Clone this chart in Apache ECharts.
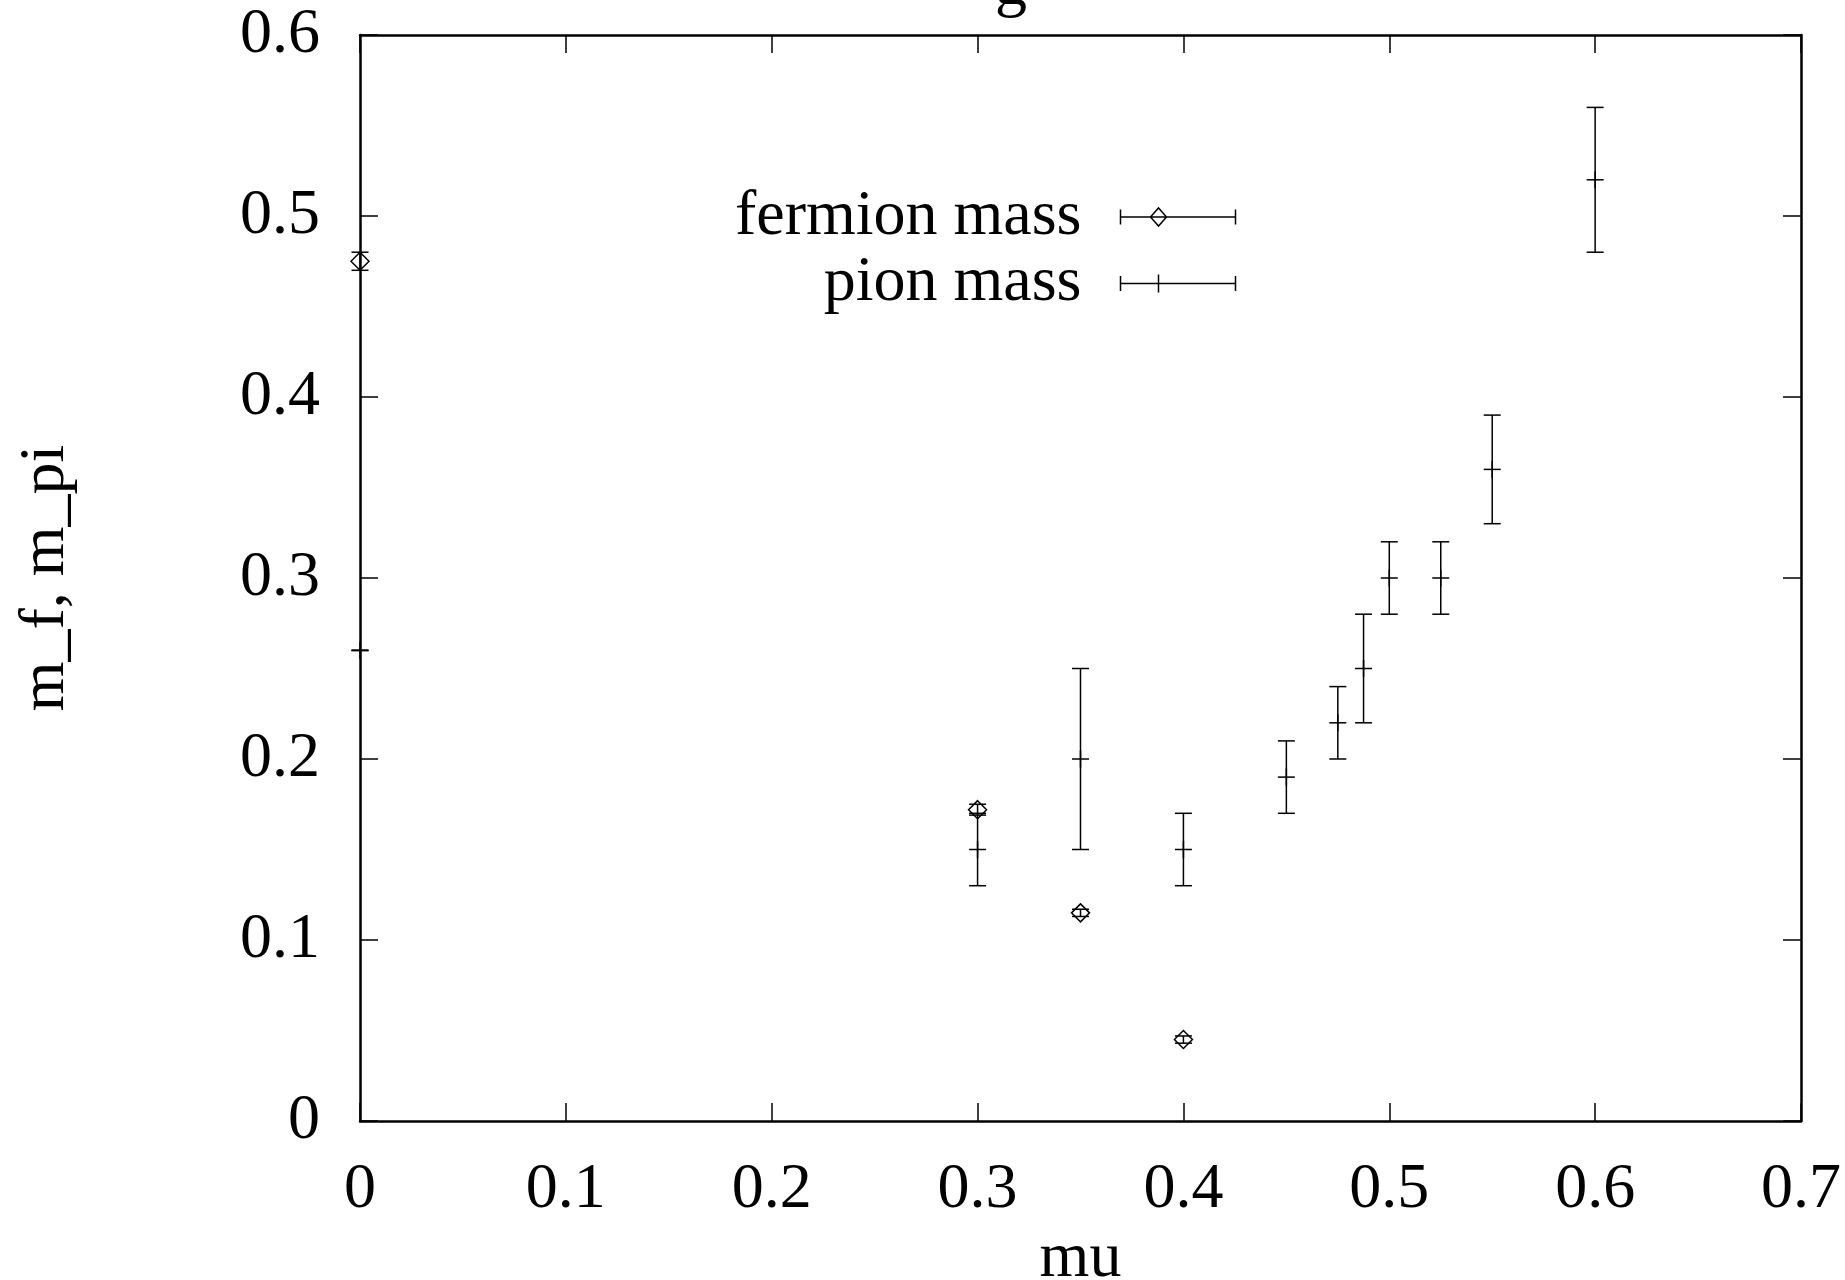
<!DOCTYPE html>
<html>
<head>
<meta charset="utf-8">
<script src="https://cdn.jsdelivr.net/npm/echarts@6/dist/echarts.min.js"></script>
<style>
html,body{margin:0;padding:0;background:#fff;}
#chart{width:1845px;height:1280px;}
</style>
</head>
<body>
<div id="chart"></div>
<script>
// ---- data ----
const fermionMu   = [0, 0.3, 0.35, 0.4];
const fermionMass = [0.475, 0.172, 0.115, 0.045];
const fermionErr  = [0.005, 0.003, 0.002, 0.002];

const pionMu   = [0, 0.3, 0.35, 0.4, 0.45, 0.475, 0.4875, 0.5, 0.525, 0.55, 0.6];
const pionMass = [0.26, 0.15, 0.20, 0.15, 0.19, 0.22, 0.25, 0.30, 0.30, 0.36, 0.52];
const pionErr  = [0, 0.02, 0.05, 0.02, 0.02, 0.02, 0.03, 0.02, 0.02, 0.03, 0.04];

const xTicks = [0, 0.1, 0.2, 0.3, 0.4, 0.5, 0.6, 0.7];
const yTicks = [0, 0.1, 0.2, 0.3, 0.4, 0.5, 0.6];

const FONT = 'Liberation Serif';
const FS = 64;

function toRows(xs, ys, es) { return xs.map((x, i) => [x, ys[i], es[i]]); }

function makeRender(kind) {
  return function (params, api) {
    const x = api.value(0), y = api.value(1), e = api.value(2);
    const c = api.coord([x, y]);
    const hi = api.coord([x, y + e]);
    const lo = api.coord([x, y - e]);
    const w = 8.5;
    const st = { stroke: '#000', lineWidth: 1.5, fill: 'none' };
    const ch = [
      { type: 'line', shape: { x1: hi[0], y1: hi[1], x2: lo[0], y2: lo[1] }, style: st },
      { type: 'line', shape: { x1: hi[0] - w, y1: hi[1], x2: hi[0] + w, y2: hi[1] }, style: st },
      { type: 'line', shape: { x1: lo[0] - w, y1: lo[1], x2: lo[0] + w, y2: lo[1] }, style: st }
    ];
    if (kind === 'diamond') {
      const d = 9;
      ch.push({ type: 'polygon', shape: { points: [[c[0], c[1] - d], [c[0] + d, c[1]], [c[0], c[1] + d], [c[0] - d, c[1]]] }, style: st });
    } else {
      ch.push({ type: 'line', shape: { x1: c[0] - w, y1: c[1], x2: c[0] + w, y2: c[1] }, style: st });
      ch.push({ type: 'line', shape: { x1: c[0], y1: c[1] - w, x2: c[0], y2: c[1] + w }, style: st });
    }
    return { type: 'group', children: ch };
  };
}

const axisLine = { show: true, onZero: false, lineStyle: { color: '#000', width: 2.5 } };
const axisTick = { show: true, inside: true, length: 18, lineStyle: { color: '#000', width: 1.5 } };
const labelStyle = { fontFamily: FONT, fontSize: FS, color: '#000' };

const fermionIcon = 'path://M0,0 L0,15 M0,7.5 L115,7.5 M115,0 L115,15 M30,7.5 L38,-1.5 L46,7.5 L38,16.5 Z';
const pionIcon = 'path://M0,0 L0,15 M0,7.5 L115,7.5 M115,0 L115,15 M38,-1.5 L38,16.5';

const legendCommon = {
  orient: 'horizontal', align: 'right', right: 607, padding: 0,
  itemWidth: 115, itemHeight: 18, selectedMode: false,
  textStyle: { fontFamily: FONT, fontSize: FS, color: '#000', padding: [0, 34, 0, 0] },
  itemStyle: { color: 'none', borderColor: '#000', borderWidth: 1.5 }
};

const option = {
  backgroundColor: '#fff',
  animation: false,
  title: { text: 'g', left: 990, top: -50, textStyle: { fontFamily: FONT, fontSize: FS, fontWeight: 'normal', color: '#000' } },
  grid: { left: 360, right: 44, top: 35, bottom: 159, containLabel: false, outerBoundsMode: 'none' },
  legend: [
    Object.assign({}, legendCommon, { top: 185, data: [{ name: 'fermion mass', icon: fermionIcon }] }),
    Object.assign({}, legendCommon, { top: 251.5, data: [{ name: 'pion mass', icon: pionIcon }] })
  ],
  xAxis: [
    { type: 'value', position: 'bottom', min: xTicks[0], max: xTicks[xTicks.length - 1], interval: 0.1,
      axisLine: axisLine, axisTick: axisTick, splitLine: { show: false },
      axisLabel: Object.assign({ margin: 37 }, labelStyle),
      name: 'mu', nameLocation: 'middle', nameGap: 94, nameTextStyle: labelStyle },
    { type: 'value', position: 'top', min: xTicks[0], max: xTicks[xTicks.length - 1], interval: 0.1,
      axisLine: axisLine, axisTick: axisTick, splitLine: { show: false }, axisLabel: { show: false } }
  ],
  yAxis: [
    { type: 'value', position: 'left', min: yTicks[0], max: yTicks[yTicks.length - 1], interval: 0.1,
      axisLine: axisLine, axisTick: axisTick, splitLine: { show: false },
      axisLabel: Object.assign({ margin: 40 }, labelStyle),
      name: 'm_f, m_pi', nameLocation: 'middle', nameGap: 282, nameTextStyle: labelStyle },
    { type: 'value', position: 'right', min: yTicks[0], max: yTicks[yTicks.length - 1], interval: 0.1,
      axisLine: axisLine, axisTick: axisTick, splitLine: { show: false }, axisLabel: { show: false } }
  ],
  series: [
    { name: 'fermion mass', type: 'custom', xAxisIndex: 0, yAxisIndex: 0, clip: false,
      renderItem: makeRender('diamond'), data: toRows(fermionMu, fermionMass, fermionErr),
      itemStyle: { color: '#000' }, encode: { x: 0, y: 1 } },
    { name: 'pion mass', type: 'custom', xAxisIndex: 0, yAxisIndex: 0, clip: false,
      renderItem: makeRender('plus'), data: toRows(pionMu, pionMass, pionErr),
      itemStyle: { color: '#000' }, encode: { x: 0, y: 1 } }
  ]
};

const chart = echarts.init(document.getElementById('chart'), null, { renderer: 'canvas' });
chart.setOption(option);
</script>
</body>
</html>
